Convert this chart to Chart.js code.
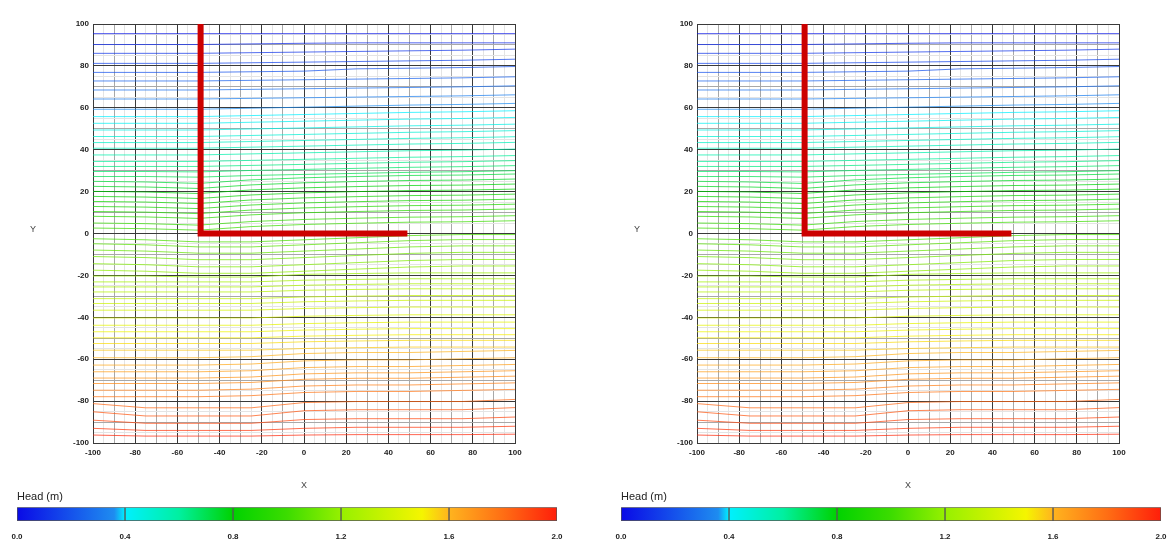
<!DOCTYPE html>
<html>
<head>
<meta charset="utf-8">
<script src="https://cdn.jsdelivr.net/npm/chart.js@4.4.1/dist/chart.umd.min.js"></script>
<style>
  html, body { margin: 0; padding: 0; background: #fff; width: 1169px; height: 541px; overflow: hidden; }
  canvas { position: absolute; }
</style>
</head>
<body>
<canvas id="leftPlot" width="565" height="500" style="left:0;top:0"></canvas>
<canvas id="rightPlot" width="565" height="500" style="left:604px;top:0"></canvas>
<canvas id="leftBar" width="565" height="55" style="left:0;top:486px"></canvas>
<canvas id="rightBar" width="565" height="55" style="left:604px;top:486px"></canvas>
<script>
const xStations = [-100, -75, -50, -25, 0, 25, 50, 75, 100];

// head value of each contour line (m), top to bottom
const headLevels = [
  0.04, 0.08, 0.12, 0.16, 0.20, 0.24, 0.28, 0.32, 0.36,
  0.40, 0.43, 0.46, 0.49, 0.52, 0.55, 0.58, 0.61, 0.64, 0.67, 0.70,
  0.73, 0.76, 0.79, 0.82, 0.85, 0.88, 0.91, 0.94, 0.97, 1.00,
  1.03, 1.06, 1.09, 1.12, 1.15, 1.18,
  1.21, 1.24, 1.27, 1.30, 1.33, 1.36, 1.39, 1.42, 1.45, 1.48, 1.51, 1.54, 1.57,
  1.60, 1.63, 1.66, 1.69, 1.72, 1.75, 1.78,
  1.82, 1.86, 1.90, 1.94, 1.97
];

// y of each contour at the x stations
const contourY = [
  [95.4, 95.4, 95.4, 95.4, 95.4, 95.4, 95.4, 95.4, 95.4],
  [90.2, 90.2, 90.2, 90.5, 90.8, 91.0, 91.0, 91.0, 91.0],
  [86.0, 86.0, 86.0, 86.3, 86.6, 86.9, 87.2, 87.5, 88.0],
  [81.2, 81.2, 81.2, 81.5, 81.8, 82.1, 82.4, 82.7, 83.2],
  [76.9, 76.9, 76.9, 77.2, 77.5, 78.6, 78.9, 79.2, 79.7],
  [72.8, 72.8, 72.8, 73.1, 73.4, 73.7, 74.0, 74.3, 74.8],
  [68.5, 68.5, 68.5, 68.8, 69.1, 69.4, 69.7, 70.0, 70.5],
  [64.2, 64.2, 64.2, 64.5, 64.8, 65.1, 65.4, 65.7, 66.2],
  [59.3, 59.3, 59.3, 59.8, 60.3, 60.8, 61.3, 61.6, 62.1],
  [55.8, 55.8, 55.8, 56.3, 56.8, 57.3, 57.8, 58.1, 58.6],
  [52.6, 52.6, 52.6, 53.1, 53.6, 54.1, 54.6, 54.9, 55.4],
  [49.4, 49.4, 49.4, 49.9, 50.4, 50.9, 51.4, 51.7, 52.2],
  [46.3, 46.3, 46.3, 46.8, 47.3, 47.8, 48.3, 48.6, 49.1],
  [43.4, 43.4, 43.4, 43.9, 44.4, 44.9, 45.4, 45.7, 46.2],
  [40.7, 40.7, 40.7, 41.2, 41.7, 42.2, 42.7, 43.0, 43.5],
  [37.5, 37.5, 37.5, 38.0, 38.5, 39.0, 39.5, 39.8, 40.3],
  [34.4, 34.4, 34.4, 34.9, 35.4, 35.9, 36.4, 36.7, 37.2],
  [32.0, 32.0, 32.0, 32.5, 33.0, 33.5, 34.0, 34.3, 34.8],
  [29.6, 29.6, 29.4, 30.1, 30.6, 31.1, 31.6, 31.9, 32.4],
  [27.2, 27.2, 26.9, 27.7, 28.2, 28.7, 29.2, 29.5, 30.0],
  [24.9, 24.6, 23.9, 25.6, 26.6, 27.2, 27.7, 27.9, 28.4],
  [22.5, 22.2, 21.5, 23.2, 24.2, 24.8, 25.3, 25.5, 26.0],
  [20.1, 19.8, 19.1, 20.8, 21.8, 22.4, 22.9, 23.1, 23.6],
  [17.7, 17.4, 16.7, 18.4, 19.4, 20.0, 20.5, 20.7, 21.2],
  [15.3, 15.0, 14.3, 16.0, 17.0, 17.6, 18.1, 18.3, 18.8],
  [12.9, 12.6, 11.9, 13.6, 14.6, 15.2, 15.7, 15.9, 16.4],
  [10.5, 10.2, 9.5, 11.2, 12.2, 12.8, 13.3, 13.5, 14.0],
  [8.2, 7.9, 7.2, 8.9, 9.9, 10.5, 11.0, 11.2, 11.7],
  [5.0, 4.7, 4.0, 5.7, 6.7, 7.3, 7.8, 8.0, 8.5],
  [2.6, 2.3, 1.6, 3.3, 4.3, 4.9, 5.4, 5.6, 6.1],
  [-2.5, -3.0, -4.0, -4.0, -3.0, -2.0, -1.0, -0.5, -0.5],
  [-4.9, -5.4, -6.4, -6.4, -5.4, -4.4, -3.4, -2.9, -2.9],
  [-7.9, -8.4, -9.4, -9.4, -8.4, -7.4, -6.4, -5.9, -5.9],
  [-11.0, -11.5, -12.5, -12.5, -11.5, -10.5, -9.5, -9.0, -9.0],
  [-14.4, -14.9, -15.9, -15.9, -14.9, -13.9, -12.9, -12.4, -12.4],
  [-17.5, -18.0, -19.0, -19.0, -18.0, -17.0, -16.0, -15.5, -15.5],
  [-20.3, -20.3, -20.8, -20.8, -19.5, -19.1, -18.8, -18.8, -18.8],
  [-23.1, -23.1, -23.1, -23.1, -22.3, -21.9, -21.6, -21.6, -21.6],
  [-25.5, -25.5, -25.5, -25.5, -24.7, -24.3, -24.0, -24.0, -24.0],
  [-27.9, -27.9, -27.9, -27.9, -27.1, -26.7, -26.4, -26.4, -26.4],
  [-31.1, -31.1, -31.1, -31.1, -30.3, -29.9, -29.6, -29.6, -29.6],
  [-33.4, -33.4, -33.4, -33.4, -32.6, -32.2, -31.9, -31.9, -31.9],
  [-36.6, -36.6, -36.6, -36.6, -35.8, -35.4, -35.1, -35.1, -35.1],
  [-40.3, -40.3, -40.3, -40.3, -39.5, -39.1, -38.8, -38.8, -38.8],
  [-43.8, -43.8, -43.8, -43.8, -43.0, -42.6, -42.3, -42.3, -42.3],
  [-46.9, -46.9, -46.9, -46.9, -46.1, -45.7, -45.4, -45.4, -45.4],
  [-49.8, -49.8, -49.8, -49.8, -49.0, -48.6, -48.3, -48.3, -48.3],
  [-52.5, -52.5, -52.5, -52.5, -51.7, -51.3, -51.0, -51.0, -51.0],
  [-55.7, -55.7, -55.7, -55.7, -54.9, -54.5, -54.2, -54.2, -54.2],
  [-59.3, -59.3, -59.3, -58.8, -57.3, -56.8, -56.8, -56.3, -55.8],
  [-62.8, -62.8, -62.8, -62.3, -60.8, -60.3, -60.3, -59.8, -59.3],
  [-66.0, -66.0, -66.0, -65.5, -64.0, -63.5, -63.5, -63.0, -62.5],
  [-69.0, -69.0, -69.0, -68.5, -67.0, -66.5, -66.5, -66.0, -65.5],
  [-71.6, -71.6, -71.6, -71.1, -69.6, -69.1, -69.1, -68.6, -68.1],
  [-74.8, -74.8, -74.8, -74.3, -72.8, -72.3, -72.3, -71.8, -71.3],
  [-77.9, -77.9, -77.9, -77.4, -75.9, -75.4, -75.4, -74.9, -74.4],
  [-81.2, -83.2, -83.2, -83.2, -80.7, -80.2, -80.2, -80.2, -79.2],
  [-85.1, -87.1, -87.1, -87.1, -84.6, -84.1, -84.1, -84.1, -83.1],
  [-89.1, -90.6, -90.6, -90.6, -88.8, -88.4, -88.4, -88.4, -87.6],
  [-93.0, -94.0, -94.0, -94.0, -93.0, -92.5, -92.5, -92.5, -92.0],
  [-96.2, -96.7, -96.7, -96.7, -96.2, -96.0, -96.0, -96.0, -95.8]
];

// the L-shaped barrier
const barrierX = [-49, -49, 49];
const barrierY = [100, 0, 0];

// colour scale
const cbStops = [0.0, 0.36, 0.40, 0.60, 0.80, 1.00, 1.20, 1.50, 1.60, 1.80, 2.00];
const cbColors = ['#0a0ae6', '#1e8cf0', '#00f0ff', '#00f0a0', '#00d200', '#3cdc00', '#96f000', '#f5f500', '#ffb41e', '#ff6e14', '#ff1e0a'];
const cbSegments = [[0, 0.4], [0.4, 0.8], [0.8, 1.2], [1.2, 1.6], [1.6, 2.0]];
const cbTicks = [0, 0.4, 0.8, 1.2, 1.6, 2.0];

function hexToRgb(hex) {
  const n = parseInt(hex.slice(1), 16);
  return [(n >> 16) & 255, (n >> 8) & 255, n & 255];
}

// colour of a head value on the colour scale
function colorFor(h, alpha) {
  let i = 0;
  while (i < cbStops.length - 2 && h > cbStops[i + 1]) i++;
  const t = Math.max(0, Math.min(1, (h - cbStops[i]) / (cbStops[i + 1] - cbStops[i])));
  const a = hexToRgb(cbColors[i]), b = hexToRgb(cbColors[i + 1]);
  const c = a.map((v, k) => Math.round(v + (b[k] - v) * t));
  return `rgba(${c[0]},${c[1]},${c[2]},${alpha})`;
}

const tickFont = { family: '"Liberation Sans", Arial, sans-serif', size: 8, weight: 'bold' };

function gridColor(ctx) {
  const v = Math.abs(Math.round(ctx.tick.value));
  if (v % 20 === 0) return '#3a3a3a';
  if (v % 10 === 0) return '#a8a8a8';
  return '#e4e4e4';
}

const yTitlePlugin = {
  id: 'yTitle',
  afterDraw(chart) {
    const ctx = chart.ctx;
    ctx.save();
    ctx.font = '9px "Liberation Sans", Arial, sans-serif';
    ctx.fillStyle = '#444';
    ctx.textAlign = 'center';
    ctx.textBaseline = 'middle';
    ctx.fillText('Y', 33, chart.scales.y.getPixelForValue(0) - 4);
    ctx.restore();
  }
};

function makePlot(id) {
  const datasets = [{
    data: barrierX.map((x, i) => ({ x: x, y: barrierY[i] })),
    borderColor: '#cc0000',
    borderWidth: 6,
    borderJoinStyle: 'miter',
    borderCapStyle: 'butt',
    pointRadius: 0,
    showLine: true,
    order: -1
  }];
  headLevels.forEach((h, i) => {
    datasets.push({
      data: xStations.map((x, j) => ({ x: x, y: contourY[i][j] })),
      borderColor: colorFor(h, 0.72),
      borderWidth: 1,
      pointRadius: 0,
      showLine: true,
      tension: 0
    });
  });

  const axis = (isX) => ({
    type: 'linear',
    min: -100,
    max: 100,
    afterBuildTicks: (scale) => {
      scale.ticks = [];
      for (let v = -100; v <= 100; v += 5) scale.ticks.push({ value: v });
    },
    afterFit: (scale) => {
      if (isX) scale.height = 57; else scale.width = 93;
    },
    ticks: {
      autoSkip: false,
      maxRotation: 0,
      padding: isX ? 5 : 4,
      color: '#222',
      font: tickFont,
      callback: (v) => (Math.abs(v) % 20 === 0 ? String(v) : '')
    },
    grid: { color: gridColor, lineWidth: 1, drawTicks: false },
    border: { color: '#3a3a3a', width: 1 },
    title: isX
      ? { display: true, text: 'X', color: '#444', font: { family: '"Liberation Sans", Arial, sans-serif', size: 9 }, padding: { top: 0, bottom: 9 } }
      : { display: false }
  });

  new Chart(document.getElementById(id).getContext('2d'), {
    type: 'scatter',
    data: { datasets: datasets },
    options: {
      responsive: false,
      animation: false,
      devicePixelRatio: 1,
      layout: { padding: { left: 0, top: 24, right: 50, bottom: 0 } },
      plugins: { legend: { display: false }, tooltip: { enabled: false } },
      scales: { x: axis(true), y: axis(false) }
    },
    plugins: [yTitlePlugin]
  });
}

function barGradient(context) {
  const chart = context.chart;
  if (!chart.chartArea) return cbColors[0];
  const xs = chart.scales.x;
  const x0 = xs.getPixelForValue(0), x1 = xs.getPixelForValue(2);
  const g = chart.ctx.createLinearGradient(x0, 0, x1, 0);
  cbStops.forEach((s, i) => g.addColorStop(s / 2, cbColors[i]));
  return g;
}

function makeColorBar(id) {
  new Chart(document.getElementById(id).getContext('2d'), {
    type: 'bar',
    data: {
      labels: ['Head'],
      datasets: cbSegments.map((seg) => ({
        data: [seg],
        backgroundColor: barGradient,
        borderColor: '#555',
        borderWidth: 1,
        borderSkipped: false,
        grouped: false,
        barPercentage: 1,
        categoryPercentage: 1
      }))
    },
    options: {
      indexAxis: 'y',
      responsive: false,
      animation: false,
      devicePixelRatio: 1,
      layout: { padding: { left: 17, top: 0, right: 8, bottom: 0 } },
      plugins: {
        legend: { display: false },
        tooltip: { enabled: false },
        title: {
          display: true,
          text: 'Head (m)',
          align: 'start',
          color: '#222',
          font: { family: '"Liberation Sans", Arial, sans-serif', size: 11, weight: 'normal' },
          padding: { top: 4, bottom: 4 }
        }
      },
      scales: {
        x: {
          min: 0,
          max: 2,
          afterBuildTicks: (scale) => {
            scale.ticks = cbTicks.map((v) => ({ value: v }));
          },
          afterFit: (scale) => {
            scale.height = 20;
            scale.paddingLeft = 0;
            scale.paddingRight = 0;
          },
          ticks: {
            autoSkip: false,
            maxRotation: 0,
            padding: 11,
            color: '#222',
            font: tickFont,
            callback: (v) => Number(v).toFixed(1)
          },
          grid: { display: false, drawTicks: false, tickLength: 0 },
          border: { display: false }
        },
        y: { display: false }
      }
    }
  });
}

document.addEventListener('DOMContentLoaded', function () {
  makePlot('leftPlot');
  makePlot('rightPlot');
  makeColorBar('leftBar');
  makeColorBar('rightBar');
});
</script>
</body>
</html>
